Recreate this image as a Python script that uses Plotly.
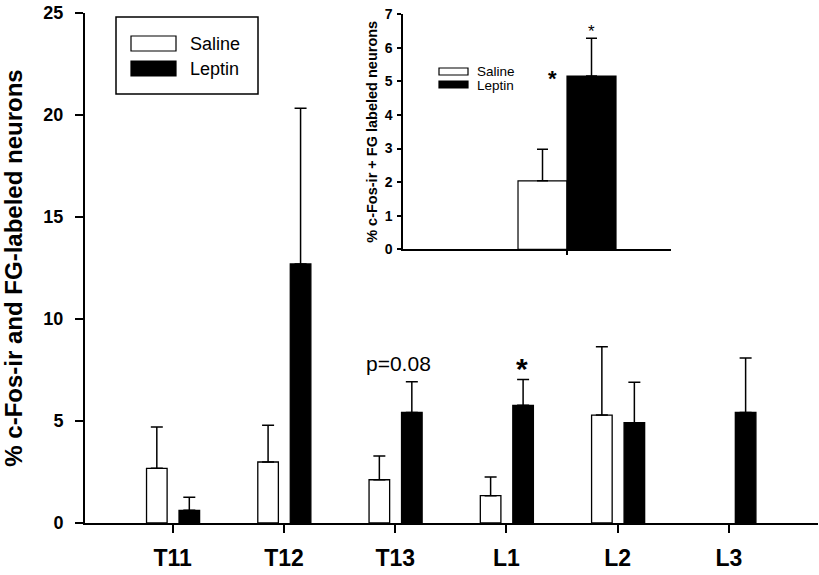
import plotly.graph_objects as go

# main panel data
segments = ["T11", "T12", "T13", "L1", "L2", "L3"]
saline = [2.68, 2.99, 2.12, 1.34, 5.29, None]
saline_err = [2.03, 1.80, 1.16, 0.91, 3.35, None]
leptin = [0.62, 12.7, 5.42, 5.77, 4.92, 5.42]
leptin_err = [0.64, 7.63, 1.51, 1.26, 1.98, 2.67]

# inset data
inset_cat = ["all"]
inset_saline = [2.04]
inset_saline_err = [0.94]
inset_leptin = [5.16]
inset_leptin_err = [1.13]

FONT = "Arial, Liberation Sans, sans-serif"

fig = go.Figure()

fig.add_trace(go.Bar(
    x=segments, y=saline, name="Saline", width=0.185, offset=-0.235,
    marker=dict(color="white", line=dict(color="black", width=1.3)),
    error_y=dict(type="data", symmetric=False, array=saline_err, arrayminus=[0] * 6,
                 color="black", thickness=1.5, width=6),
    showlegend=False,
))
fig.add_trace(go.Bar(
    x=segments, y=leptin, name="Leptin", width=0.185, offset=0.057,
    marker=dict(color="black", line=dict(color="black", width=1.3)),
    error_y=dict(type="data", symmetric=False, array=leptin_err, arrayminus=[0] * 6,
                 color="black", thickness=1.5, width=6),
    showlegend=False,
))

fig.add_trace(go.Bar(
    x=inset_cat, y=inset_saline, width=0.4, offset=-0.4, xaxis="x2", yaxis="y2",
    marker=dict(color="white", line=dict(color="black", width=1.2)),
    error_y=dict(type="data", symmetric=False, array=inset_saline_err, arrayminus=[0],
                 color="black", thickness=1.5, width=5.5),
    showlegend=False,
))
fig.add_trace(go.Bar(
    x=inset_cat, y=inset_leptin, width=0.4, offset=0, xaxis="x2", yaxis="y2",
    marker=dict(color="black", line=dict(color="black", width=1.2)),
    error_y=dict(type="data", symmetric=False, array=inset_leptin_err, arrayminus=[0],
                 color="black", thickness=1.5, width=5.5),
    showlegend=False,
))

W, H = 819, 575
L, R, T, B = 85, 1, 13, 52
PW, PH = W - L - R, H - T - B


def px(x):
    return (x - L) / PW


def py(y):
    return (H - B - y) / PH


fig.update_layout(
    width=W, height=H,
    margin=dict(l=L, r=R, t=T, b=B),
    paper_bgcolor="white", plot_bgcolor="white",
    font=dict(family=FONT, color="black"),
    barmode="overlay",
    xaxis=dict(
        type="category", range=[-0.788, 5.80], showgrid=False, zeroline=False,
        showline=True, linecolor="black", linewidth=2,
        ticks="outside", ticklen=8, tickwidth=2, tickcolor="black",
        tickfont=dict(size=23, family=FONT, weight="bold"), ticklabelstandoff=5,
    ),
    yaxis=dict(
        range=[0, 25], tickvals=[0, 5, 10, 15, 20, 25], showgrid=False, zeroline=False,
        showline=True, linecolor="black", linewidth=2,
        ticks="outside", ticklen=8, tickwidth=2, tickcolor="black",
        tickfont=dict(size=18, family=FONT, weight="bold"), ticklabelstandoff=8,
        title=dict(text="% c-Fos-ir and FG-labeled neurons",
                   font=dict(size=24, family=FONT, weight="bold"), standoff=16),
    ),
    xaxis2=dict(
        domain=[px(403), px(671)], anchor="y2", type="category", range=[-1.339, 0.849],
        showgrid=False, zeroline=False, showline=True, linecolor="black", linewidth=1.5,
        ticks="outside", ticklen=4, tickwidth=1.5, tickcolor="black", showticklabels=False,
    ),
    yaxis2=dict(
        domain=[py(249.3), py(14.3)], anchor="x2", range=[0, 7], dtick=1,
        showgrid=False, zeroline=False, showline=True, linecolor="black", linewidth=1.5,
        ticks="outside", ticklen=4, tickwidth=1.5, tickcolor="black",
        tickfont=dict(size=14, family=FONT, weight="bold"), ticklabelstandoff=2,
        title=dict(text="% c-Fos-ir + FG labeled neurons",
                   font=dict(size=14.5, family=FONT, weight="bold"), standoff=4),
    ),
)

# main legend (boxed)
fig.add_shape(type="rect", xref="paper", yref="paper", x0=px(116), x1=px(258),
              y0=py(94), y1=py(17), line=dict(color="black", width=1.5), fillcolor="white")
fig.add_shape(type="rect", xref="paper", yref="paper", x0=px(131), x1=px(176),
              y0=py(51), y1=py(36), line=dict(color="black", width=1.2), fillcolor="white")
fig.add_shape(type="rect", xref="paper", yref="paper", x0=px(131), x1=px(176),
              y0=py(76), y1=py(61), line=dict(color="black", width=1.2), fillcolor="black")
for label, yy in [("Saline", 44), ("Leptin", 69)]:
    fig.add_annotation(text=label, xref="paper", yref="paper", x=px(188), y=py(yy),
                       xanchor="left", yanchor="middle", showarrow=False,
                       font=dict(size=18, family=FONT))

# inset legend
fig.add_shape(type="rect", xref="paper", yref="paper", x0=px(439), x1=px(468),
              y0=py(75), y1=py(68), line=dict(color="black", width=1.2), fillcolor="white")
fig.add_shape(type="rect", xref="paper", yref="paper", x0=px(439), x1=px(468),
              y0=py(88), y1=py(81), line=dict(color="black", width=1.2), fillcolor="black")
for label, yy in [("Saline", 71), ("Leptin", 85)]:
    fig.add_annotation(text=label, xref="paper", yref="paper", x=px(475), y=py(yy),
                       xanchor="left", yanchor="middle", showarrow=False,
                       font=dict(size=13.5, family=FONT))

# significance marks
fig.add_annotation(text="p=0.08", x="T13", y=7.8, xshift=3, showarrow=False,
                   yanchor="middle", font=dict(size=21, family=FONT))
fig.add_annotation(text="*", x="L1", y=7.8, xshift=16, yshift=-5, showarrow=False,
                   yanchor="middle", font=dict(size=30, family=FONT, weight="bold"))
fig.add_annotation(text="*", x="all", y=6.63, xref="x2", yref="y2", xshift=24, yshift=-5,
                   showarrow=False, yanchor="middle", font=dict(size=17, family=FONT))
fig.add_annotation(text="*", x="all", y=5.22, xref="x2", yref="y2", xshift=-15, yshift=-4,
                   showarrow=False, yanchor="middle", font=dict(size=22, family=FONT, weight="bold"))

# page has a default 8px body margin; drop it so the figure sits at the window corner
fig.write_html("out.html", config={"displayModeBar": False},
               post_script="document.body.style.margin='0';")
